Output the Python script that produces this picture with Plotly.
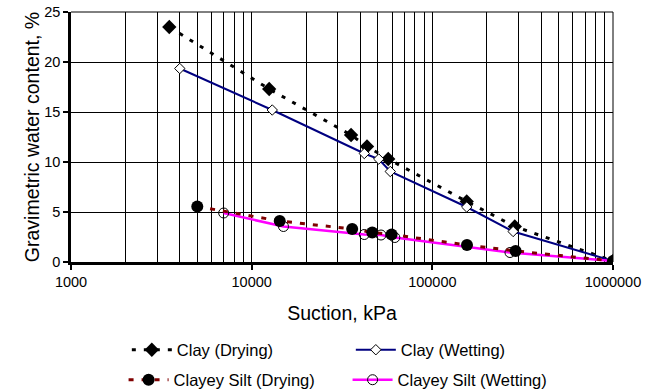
import plotly.graph_objects as go

clay_dry_x = [3500, 12500, 35500, 43500, 57000, 155000, 286000, 1000000]
clay_dry_y = [23.5, 17.3, 12.7, 11.55, 10.3, 6.05, 3.55, 0.1]

clay_wet_x = [4000, 13000, 42000, 50500, 58500, 155000, 280000, 1000000]
clay_wet_y = [19.35, 15.2, 10.85, 10.3, 9.05, 5.5, 3.05, 0.1]

silt_dry_x = [5000, 14300, 36000, 46500, 59500, 155500, 289000, 1000000]
silt_dry_y = [5.55, 4.1, 3.3, 2.95, 2.75, 1.7, 1.1, 0.1]

silt_wet_x = [7000, 15000, 42000, 52000, 62000, 269000, 1000000]
silt_wet_y = [4.9, 3.55, 2.75, 2.7, 2.45, 0.95, 0.1]

x_tick_vals = [1000, 10000, 100000, 1000000]
x_tick_text = ["1000", "10000", "100000", "1000000"]
y_tick_vals = [0, 5, 10, 15, 20, 25]

minor_vals = [m * d for d in [1000, 10000, 100000] for m in range(2, 10)]

FONT = "Liberation Sans, Arial, sans-serif"

fig = go.Figure()
fig.add_trace(go.Scatter(
    x=clay_dry_x, y=clay_dry_y, name="Clay (Drying)", mode="lines+markers",
    line=dict(color="black", width=3, dash="4px,8px"),
    marker=dict(symbol="diamond", size=11, color="black"),
    legend="legend"))
fig.add_trace(go.Scatter(
    x=clay_wet_x, y=clay_wet_y, name="Clay (Wetting)", mode="lines+markers",
    line=dict(color="#000080", width=2),
    marker=dict(symbol="diamond", size=8, color="white", line=dict(color="black", width=1)),
    legend="legend"))
fig.add_trace(go.Scatter(
    x=silt_wet_x, y=silt_wet_y, name="Clayey Silt (Wetting)", mode="lines+markers",
    line=dict(color="#FF00FF", width=2.5),
    marker=dict(symbol="circle", size=10, color="rgba(255,255,255,0)", line=dict(color="black", width=1)),
    legend="legend2"))
fig.add_trace(go.Scatter(
    x=silt_dry_x, y=silt_dry_y, name="Clayey Silt (Drying)", mode="lines+markers",
    line=dict(color="#800000", width=3, dash="5px,8px"),
    marker=dict(symbol="circle", size=12, color="black"),
    legend="legend2"))

fig.update_layout(
    width=663, height=391,
    margin=dict(l=71, r=50, t=12, b=129, autoexpand=False),
    paper_bgcolor="white", plot_bgcolor="white",
    font=dict(family=FONT, color="black", size=14.5),
    legend=dict(orientation="h", x=0.103, xanchor="left", y=-0.352, yanchor="middle",
                entrywidth=169, itemwidth=40, font=dict(size=16.5, family=FONT), traceorder="normal",
                bgcolor="rgba(0,0,0,0)"),
    legend2=dict(orientation="h", x=0.097, xanchor="left", y=-0.472, yanchor="middle",
                 entrywidth=169, itemwidth=40, font=dict(size=16.5, family=FONT), traceorder="reversed",
                 bgcolor="rgba(0,0,0,0)"),
    shapes=[
        dict(type="line", xref="paper", yref="paper", x0=0, x1=1, y0=1, y1=1,
             line=dict(color="black", width=1)),
        dict(type="line", xref="paper", yref="paper", x0=1, x1=1, y0=0, y1=1,
             line=dict(color="black", width=1)),
    ],
)
fig.update_xaxes(
    type="log", range=[3, 6], tickvals=x_tick_vals, ticktext=x_tick_text,
    showgrid=True, gridcolor="black", gridwidth=1,
    minor=dict(tickvals=minor_vals, showgrid=True, gridcolor="black", gridwidth=1, ticks=""),
    showline=True, linecolor="black", linewidth=2.5,
    ticks="outside", ticklen=5, tickcolor="black", tickwidth=1.5,
    tickfont=dict(size=14.5), zeroline=False,
    title=dict(text="Suction, kPa", font=dict(size=19.5), standoff=18),
)
fig.update_yaxes(
    range=[0, 25], tickvals=y_tick_vals,
    showgrid=True, gridcolor="black", gridwidth=1,
    showline=True, linecolor="black", linewidth=2.5,
    ticks="outside", ticklen=5, tickcolor="black", tickwidth=1.5,
    tickfont=dict(size=14.5), zeroline=False,
    title=dict(text="Gravimetric water content, %", font=dict(size=19.5), standoff=0),
)
fig.write_html("out.html")
